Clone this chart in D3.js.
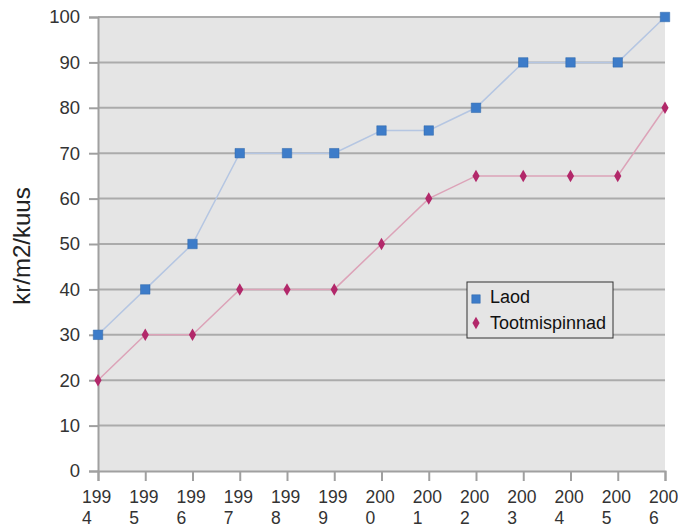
<!DOCTYPE html>
<html>
<head>
<meta charset="utf-8">
<script src="https://cdn.jsdelivr.net/npm/d3@7"></script>
<style>
  body { margin: 0; background: #fff; }
  svg { display: block; font-family: "Liberation Sans", Arial, sans-serif; }
</style>
</head>
<body>
<div id="chart"></div>
<script>
// Chart data
const years = ['1994', '1995', '1996', '1997', '1998', '1999', '2000', '2001', '2002', '2003', '2004', '2005', '2006'];
const laod = [30, 40, 50, 70, 70, 70, 75, 75, 80, 90, 90, 90, 100];
const tootmispinnad = [20, 30, 30, 40, 40, 40, 50, 60, 65, 65, 65, 65, 80];
const yTicks = [0, 10, 20, 30, 40, 50, 60, 70, 80, 90, 100];

const width = 678, height = 527;
const margin = {top: 17, right: 13, bottom: 56, left: 98};

const svg = d3.select('#chart')
    .append('svg')
    .attr('width', width)
    .attr('height', height);

// Scales
const x = d3.scalePoint()
    .domain(years)
    .range([margin.left, width - margin.right]);

const y = d3.scaleLinear()
    .domain([0, 100])
    .range([height - margin.bottom, margin.top]);

// Plot background
svg.append('rect')
    .attr('x', margin.left)
    .attr('y', margin.top)
    .attr('width', width - margin.right - margin.left)
    .attr('height', y(0) - margin.top)
    .attr('fill', '#e5e5e5');

// Gridlines
svg.append('g')
    .selectAll('line')
    .data(yTicks.filter(d => d > 0))
    .enter()
    .append('line')
    .attr('x1', margin.left)
    .attr('x2', width - margin.right)
    .attr('y1', d => y(d))
    .attr('y2', d => y(d))
    .attr('stroke', '#ababab')
    .attr('stroke-width', 2);

// Y axis
const yAxis = svg.append('g')
    .attr('transform', `translate(${margin.left},0)`)
    .call(d3.axisLeft(y).tickValues(yTicks).tickSize(9).tickPadding(9));
yAxis.select('.domain').attr('stroke', '#a0a0a0').attr('stroke-width', 2);
yAxis.selectAll('.tick line').attr('stroke', '#a0a0a0').attr('stroke-width', 2);
yAxis.selectAll('.tick text')
    .attr('font-size', 18.5)
    .attr('fill', '#333');

// X axis
const xAxis = svg.append('g')
    .attr('transform', `translate(0,${y(0)})`)
    .call(d3.axisBottom(x).tickSize(10).tickFormat(''));
xAxis.select('.domain').attr('stroke', '#a0a0a0').attr('stroke-width', 2);
xAxis.selectAll('.tick line').attr('stroke', '#a0a0a0').attr('stroke-width', 2);

// Two-line year labels ("199" / "4")
const xLabels = svg.append('g')
    .selectAll('text')
    .data(years)
    .enter()
    .append('text')
    .attr('font-size', 17.5)
    .attr('fill', '#333');
xLabels.append('tspan')
    .attr('x', d => x(d) - 16)
    .attr('y', 503)
    .text(d => d.slice(0, 3));
xLabels.append('tspan')
    .attr('x', d => x(d) - 16)
    .attr('y', 524)
    .text(d => d.slice(3));

// Y axis title
svg.append('text')
    .attr('transform', `translate(30,246) rotate(-90)`)
    .attr('text-anchor', 'middle')
    .attr('font-size', 24)
    .attr('fill', '#222')
    .text('kr/m2/kuus');

// Lines
const line = d3.line()
    .x((d, i) => x(years[i]))
    .y(d => y(d));

svg.append('path')
    .datum(laod)
    .attr('d', line)
    .attr('fill', 'none')
    .attr('stroke', '#b5c6e2')
    .attr('stroke-width', 1.5);

svg.append('path')
    .datum(tootmispinnad)
    .attr('d', line)
    .attr('fill', 'none')
    .attr('stroke', '#dca3b8')
    .attr('stroke-width', 1.5);

// Markers
const square = d3.symbol().type(d3.symbolSquare).size(90);
const diamond = d3.symbol().type(d3.symbolDiamond).size(45);

svg.append('g')
    .selectAll('path')
    .data(laod)
    .enter()
    .append('path')
    .attr('d', square)
    .attr('transform', (d, i) => `translate(${x(years[i])},${y(d)})`)
    .attr('fill', '#3d7cc9')
    .attr('stroke', '#2f66a8')
    .attr('stroke-width', 0.5);

svg.append('g')
    .selectAll('path')
    .data(tootmispinnad)
    .enter()
    .append('path')
    .attr('d', diamond)
    .attr('transform', (d, i) => `translate(${x(years[i])},${y(d)})`)
    .attr('fill', '#b2286a');

// Legend
const legend = svg.append('g').attr('transform', 'translate(467,282)');
legend.append('rect')
    .attr('width', 146)
    .attr('height', 56)
    .attr('fill', '#e5e5e5')
    .attr('stroke', '#333')
    .attr('stroke-width', 1);
legend.append('path')
    .attr('d', d3.symbol().type(d3.symbolSquare).size(72))
    .attr('transform', 'translate(9,17)')
    .attr('fill', '#3d7cc9')
    .attr('stroke', '#2f66a8')
    .attr('stroke-width', 0.5);
legend.append('path')
    .attr('d', diamond)
    .attr('transform', 'translate(9,41)')
    .attr('fill', '#b2286a');
legend.append('text')
    .attr('x', 23)
    .attr('y', 21)
    .attr('font-size', 18)
    .attr('fill', '#111')
    .text('Laod');
legend.append('text')
    .attr('x', 23)
    .attr('y', 47)
    .attr('font-size', 18)
    .attr('fill', '#111')
    .text('Tootmispinnad');
</script>
</body>
</html>
